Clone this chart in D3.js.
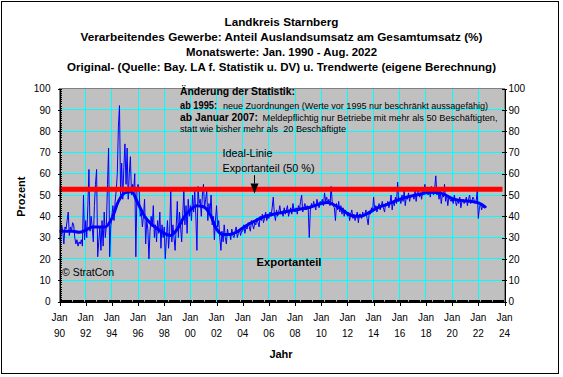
<!DOCTYPE html>
<html>
<head>
<meta charset="utf-8">
<script src="https://cdn.jsdelivr.net/npm/d3@7"></script>
<style>
body { margin: 0; background: #fff; }
text { font-family: Arial, "Liberation Sans", sans-serif; fill: #000; }
</style>
</head>
<body>
<div id="chart"></div>
<script>
// monthly share of foreign turnover (%), Jan 1990 - Aug 2022, one row per year
const startYear = 1990;
const exportShare = [
    30, 28, 36, 33, 27, 35, 34, 38, 42, 31, 35, 33,   // 1990
    37, 36, 30, 27, 29, 26, 28, 27, 29, 26, 50, 29,   // 1991
    38, 30, 45, 62, 33, 40, 35, 28, 45, 55, 62, 21,   // 1992
    28, 35, 24, 38, 26, 42, 30, 36, 55, 72, 21, 35,   // 1993
    40, 45, 38, 47, 52, 60, 82, 92, 50, 65, 48, 63,   // 1994
    74, 55, 72, 48, 60, 68, 50, 55, 52, 60, 21, 52,   // 1995
    55, 53, 40, 42, 35, 40, 48, 27, 38, 34, 20, 33,   // 1996
    40, 35, 45, 30, 36, 28, 38, 32, 42, 25, 36, 30,   // 1997
    35, 20, 30, 38, 25, 33, 52, 28, 36, 30, 24, 35,   // 1998
    47, 30, 42, 35, 28, 40, 53, 36, 45, 32, 48, 40,   // 1999
    45, 38, 50, 42, 52, 40, 24, 54, 46, 48, 40, 50,   // 2000
    55, 44, 48, 52, 38, 46, 42, 50, 36, 40, 29, 38,   // 2001
    45, 35, 38, 30, 24, 33, 28, 36, 30, 27, 34, 31,   // 2002
    32, 29, 34, 31, 30, 33, 35, 30, 32, 34, 31, 33,   // 2003
    33, 36, 32, 35, 34, 37, 35, 33, 38, 36, 34, 37,   // 2004
    36, 39, 37, 35, 40, 38, 41, 37, 39, 42, 38, 40,   // 2005
    39, 42, 40, 44, 49, 41, 38, 43, 40, 42, 45, 41,   // 2006
    42, 40, 44, 41, 43, 45, 40, 42, 44, 41, 46, 43,   // 2007
    42, 44, 41, 45, 43, 47, 50, 42, 44, 46, 43, 45,   // 2008
    44, 30, 43, 46, 44, 47, 45, 43, 48, 46, 44, 47,   // 2009
    46, 48, 45, 51, 47, 49, 46, 48, 45, 54, 47, 45,   // 2010
    44, 38, 46, 43, 47, 42, 45, 41, 44, 40, 43, 42,   // 2011
    40, 42, 38, 41, 43, 39, 41, 38, 40, 42, 37, 41,   // 2012
    41, 39, 42, 40, 41, 43, 39, 36, 42, 41, 44, 42,   // 2013
    49, 43, 45, 42, 44, 46, 43, 45, 47, 44, 42, 46,   // 2014
    45, 47, 44, 46, 50, 43, 47, 45, 49, 46, 56, 47,   // 2015
    48, 46, 50, 47, 52, 45, 49, 48, 51, 47, 50, 49,   // 2016
    50, 48, 52, 47, 51, 53, 49, 51, 48, 52, 50, 55,   // 2017
    51, 53, 50, 52, 49, 54, 51, 50, 53, 59, 50, 52,   // 2018
    48, 52, 46, 50, 49, 55, 47, 50, 45, 49, 48, 47,   // 2019
    48, 46, 50, 47, 45, 48, 46, 49, 44, 47, 48, 46,   // 2020
    47, 49, 45, 48, 50, 46, 47, 49, 48, 46, 47, 52,   // 2021
    39, 44, 46, 43, 45, 44, 45, 44                    // 2022 (Jan - Aug)
];

// trend values read every half year
const trendYears = [
    1990, 1990.5, 1991, 1991.5, 1992, 1992.5, 1993, 1993.5, 1994, 1994.5,
    1995, 1995.5, 1996, 1996.5, 1997, 1997.5, 1998, 1998.5, 1999, 1999.5,
    2000, 2000.5, 2001, 2001.5, 2002, 2002.5, 2003, 2003.5, 2004, 2004.5,
    2005, 2005.5, 2006, 2006.5, 2007, 2007.5, 2008, 2008.5, 2009, 2009.5,
    2010, 2010.5, 2011, 2011.5, 2012, 2012.5, 2013, 2013.5, 2014, 2014.5,
    2015, 2015.5, 2016, 2016.5, 2017, 2017.5, 2018, 2018.5, 2019, 2019.5,
    2020, 2020.5, 2021, 2021.5, 2022, 2022.5, 2022.58
];
const trendValues = [
    33, 33, 33, 32.5, 33.5, 35, 35, 35, 39, 47,
    51, 51.5, 46, 40, 36.5, 34, 32, 31, 34, 39.5,
    43, 45, 44.5, 41, 34, 31.5, 31.5, 32.5, 34.5, 36.5,
    38, 39.5, 40.5, 41.2, 41.8, 42.4, 43, 43.5, 44, 45,
    46, 46.5, 45.3, 43.5, 41.3, 40, 40, 41.2, 43, 44.5,
    45.5, 46.8, 48, 49, 49.7, 50.3, 51, 51.3, 51, 50,
    48.3, 47.5, 47.2, 47, 46.3, 44.5, 44
];

const yTicks = [0, 10, 20, 30, 40, 50, 60, 70, 80, 90, 100];
const xTickYears = [1990, 1992, 1994, 1996, 1998, 2000, 2002, 2004, 2006, 2008, 2010, 2012, 2014, 2016, 2018, 2020, 2022, 2024];
const idealValue = 52.7;
const arrowYear = 2004.85;
const arrowFrom = 59.3, arrowTo = 50.7;

const titleLines = [
    "Landkreis Starnberg",
    "Verarbeitendes Gewerbe: Anteil Auslandsumsatz am Gesamtumsatz (%)",
    "Monatswerte: Jan. 1990 - Aug. 2022",
    "Original- (Quelle: Bay. LA f. Statistik u. DV) u. Trendwerte (eigene Berechnung)"
];
const titleWidths = [114, 402, 191, 429];

let width = 563, height = 377;

let svg = d3.select("#chart").append("svg")
    .attr("width", width)
    .attr("height", height);

// outer frame
svg.append("rect")
    .attr("x", 1.5).attr("y", 1.5)
    .attr("width", 557).attr("height", 372)
    .attr("fill", "#fff")
    .attr("stroke", "#000");

let x = d3.scaleLinear().domain([1990, 2024]).range([59.5, 504.5]);
let y = d3.scaleLinear().domain([0, 100]).range([301.5, 88.5]);

// title
svg.append("g").selectAll("text")
    .data(titleLines)
    .enter()
    .append("text")
    .attr("x", 281.5)
    .attr("y", (d, i) => 25.5 + i * 15.3)
    .attr("text-anchor", "middle")
    .attr("textLength", (d, i) => titleWidths[i])
    .attr("lengthAdjust", "spacingAndGlyphs")
    .style("font-size", "11px")
    .style("font-weight", "bold")
    .text(d => d);

// plot area
svg.append("rect")
    .attr("x", x(1990)).attr("y", y(100))
    .attr("width", x(2024) - x(1990)).attr("height", y(0) - y(100))
    .attr("fill", "#c0c0c0")
    .attr("stroke", "#808080");

let grid = svg.append("g").attr("shape-rendering", "crispEdges");
grid.selectAll(".hgrid")
    .data(yTicks.filter(d => d > 0 && d < 100))
    .enter().append("line")
    .attr("class", "hgrid")
    .attr("x1", x(1990)).attr("x2", x(2024))
    .attr("y1", d => y(d)).attr("y2", d => y(d))
    .attr("stroke", "#00ffff");
grid.selectAll(".vgrid")
    .data(xTickYears.filter(d => d > 1990 && d < 2024))
    .enter().append("line")
    .attr("class", "vgrid")
    .attr("x1", d => x(d)).attr("x2", d => x(d))
    .attr("y1", y(0)).attr("y2", y(100))
    .attr("stroke", "#00ffff");

// annotations inside plot
let notes = [
    {t: "Änderung der Statistik:", x: 180, y: 95, w: 115, bold: true},
    {t: "ab 1995:", x: 180, y: 109, w: 37, bold: true},
    {t: "neue Zuordnungen (Werte vor 1995 nur beschränkt aussagefähig)", x: 223, y: 109, w: 265, bold: false},
    {t: "ab Januar 2007:", x: 180, y: 120.7, w: 78, bold: true},
    {t: "Meldepflichtig nur Betriebe mit mehr als 50 Beschäftigten,", x: 262.5, y: 120.7, w: 235, bold: false},
    {t: "statt wie bisher mehr als  20 Beschäftigte", x: 180, y: 132.3, w: 166, bold: false},
    {t: "Ideal-Linie", x: 222.5, y: 157, w: 50, bold: false, size: 10.5},
    {t: "Exportanteil (50 %)", x: 222.5, y: 172, w: 92, bold: false, size: 10.5},
    {t: "Exportanteil", x: 256.5, y: 265.7, w: 65, bold: true, size: 11},
    {t: "© StratCon", x: 62, y: 275.7, w: 52, bold: false, size: 10.5}
];
svg.append("g").selectAll("text")
    .data(notes)
    .enter()
    .append("text")
    .attr("x", d => d.x)
    .attr("y", d => d.y)
    .attr("textLength", d => d.w)
    .attr("lengthAdjust", "spacingAndGlyphs")
    .style("font-size", d => (d.size || (d.bold ? 10 : 9)) + "px")
    .style("font-weight", d => d.bold ? "bold" : "normal")
    .style("white-space", "pre")
    .text(d => d.t);

// original monthly values
let monthly = exportShare.map((v, i) => ({t: startYear + i / 12, v: v}));
let line = d3.line().x(d => x(d.t)).y(d => y(d.v));

svg.append("path")
    .datum(monthly)
    .attr("fill", "none")
    .attr("stroke", "#0000ff")
    .attr("stroke-width", 1)
    .attr("d", line);

// trend
let trend = trendYears.map((t, i) => ({t: t, v: trendValues[i]}));
svg.append("path")
    .datum(trend)
    .attr("fill", "none")
    .attr("stroke", "#0000ff")
    .attr("stroke-width", 3)
    .attr("stroke-linejoin", "round")
    .attr("d", line.curve(d3.curveMonotoneX));

// ideal line
svg.append("line")
    .attr("x1", x(1990)).attr("x2", x(2024) - 2)
    .attr("y1", y(idealValue)).attr("y2", y(idealValue))
    .attr("stroke", "#ff0000")
    .attr("stroke-width", 5);

// arrow
let ax = Math.round(x(arrowYear)) + 0.5;
let headTop = y(arrowTo) - 10;
svg.append("line")
    .attr("x1", ax).attr("x2", ax)
    .attr("y1", y(arrowFrom)).attr("y2", headTop)
    .attr("stroke", "#000");
svg.append("path")
    .attr("d", `M${ax - 4},${headTop} L${ax + 4},${headTop} L${ax},${y(arrowTo)} Z`)
    .attr("fill", "#000");

// axes
let axisG = svg.append("g").attr("shape-rendering", "crispEdges");

let leftAxis = axisG.append("g")
    .attr("transform", `translate(${x(1990)},0)`)
    .call(d3.axisLeft(y).tickValues(yTicks).tickSize(2).tickPadding(7).tickSizeOuter(0));
leftAxis.append("g").call(d3.axisRight(y).tickValues(yTicks).tickSize(2).tickFormat("").tickSizeOuter(0));
leftAxis.append("g").call(d3.axisRight(y).tickValues(d3.range(0, 100, 1)).tickSize(2).tickFormat("").tickSizeOuter(0))
    .select(".domain").remove();

let rightAxis = axisG.append("g")
    .attr("transform", `translate(${x(2024)},0)`)
    .call(d3.axisRight(y).tickValues(yTicks).tickSize(2).tickPadding(2).tickSizeOuter(0));
rightAxis.append("g").call(d3.axisLeft(y).tickValues(yTicks).tickSize(3).tickFormat("").tickSizeOuter(0));

let bottomAxis = axisG.append("g")
    .attr("transform", `translate(0,${y(0)})`)
    .call(d3.axisBottom(x).tickValues(xTickYears).tickSize(4).tickFormat("").tickSizeOuter(0));
bottomAxis.append("g").call(d3.axisTop(x).tickValues(d3.range(0, 34 * 12 + 1).map(m => 1990 + m / 12)).tickSize(2).tickFormat("").tickSizeOuter(0))
    .select(".domain").remove();

axisG.selectAll("text")
    .style("font-size", "10px")
    .style("font-family", "Arial, 'Liberation Sans', sans-serif");
axisG.selectAll("path, line").attr("stroke", "#000");

// two-line year labels
let xLabels = svg.append("g").selectAll("text")
    .data(xTickYears)
    .enter()
    .append("text")
    .attr("text-anchor", "middle")
    .style("font-size", "10px");
xLabels.append("tspan")
    .attr("x", d => x(d))
    .attr("y", 320.7)
    .text("Jan");
xLabels.append("tspan")
    .attr("x", d => x(d))
    .attr("y", 336.7)
    .text(d => String(d % 100).padStart(2, "0"));

// axis titles
svg.append("text")
    .attr("transform", "translate(25,196.7) rotate(-90)")
    .attr("text-anchor", "middle")
    .style("font-size", "11px")
    .style("font-weight", "bold")
    .text("Prozent");

svg.append("text")
    .attr("x", 281)
    .attr("y", 357.5)
    .attr("text-anchor", "middle")
    .style("font-size", "11px")
    .style("font-weight", "bold")
    .text("Jahr");
</script>
</body>
</html>
